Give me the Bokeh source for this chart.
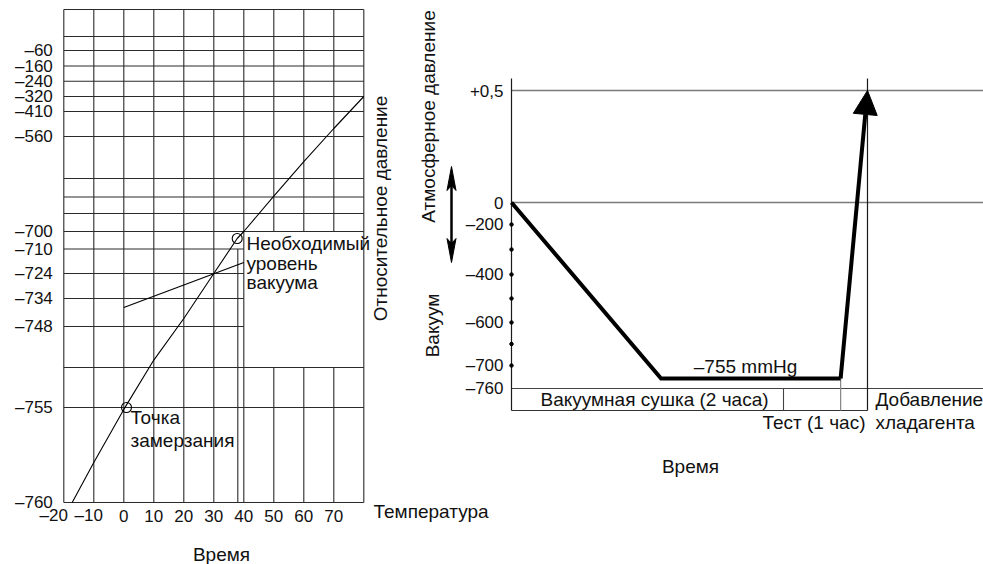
import numpy as np
from bokeh.plotting import figure
from bokeh.models import Range1d, Arrow, NormalHead
from bokeh.core.properties import value
from bokeh.embed import file_html
from bokeh.resources import INLINE

# ---------------- data: left chart (water vapour curve) ----------------
TEMP_TICKS = [-20, -10, 0, 10, 20, 30, 40, 50, 60, 70]
TEMP_LABELS = ["–20", "–10", "0", "10", "20", "30", "40", "50", "60", "70"]
TEMP_GRID = [-20, -10, 0, 10, 20, 30, 40, 50, 60, 70, 80]
P_TICKS = [-60, -160, -240, -320, -410, -560, -700, -710, -724, -734, -748, -755, -760]
P_LABELS = ["–60", "–160", "–240", "–320", "–410", "–560", "–700", "–710",
            "–724", "–734", "–748", "–755", "–760"]
CURVE_TEMP = [-17.2, -10, 0, 10, 20, 30, 37.8, 40, 50, 60, 70, 80]
CURVE_P = [-760, -757.9, -755.1, -750.9, -744, -724, -704, -700, -648, -597, -512, -320]
FREEZE_T, FREEZE_P = [0.9], [-755]
REQ_T, REQ_P = [37.8], [-704]
LEADER_T = [0, 40]
LEADER_P = [-738.5, -717.7]
REQ_LINE_T = 38
REQ_LINE_P = [-710, -760]

# ---------------- data: right chart (evacuation procedure) --------------
TIME_H = [0, 2, 3]                 # vacuum drying 2 h, test 1 h
PR_TICKS = [0.5, 0, -200, -400, -600, -700, -760]
PR_LABELS = ["+0,5", "0", "–200", "–400", "–600", "–700", "–760"]
PR_DOTS = [-200, -300, -400, -500, -600, -650, -700]
PR_LINES = [0.5, 0, -760]
PROFILE_T = [0, 1.1, 2.68]
PROFILE_P = [0, -755, -755]
CHARGE_T, CHARGE_P = 3.0, 0.5

# ---------------- layout (schematic, non-linear scales) -----------------
W, H = 983, 564
OFFX, OFFY = 0, 0
FONT = value("Liberation Sans")
FS_NUM = "17px"
FS_TXT = "19px"

# left chart: gridline heights (px above the -760 line)
P_TICK_H = [452, 436.5, 421.3, 406, 391, 366, 271, 253.5, 229, 204, 176, 95, 0]
P_EXTRA_H = [466, 324, 305.5, 289, 135]
L_TOP_H = 493
BOX_T = (40, 80)
BOX_H = (135, 271)
L_X0, L_PX0, L_PXPERU = -20, 63.3, 3.0
L_BOTTOM_PAGE = 502

# right chart
TIME_POS = [0, 272, 356]
RP_SCALE_V = [-760, -755, -700, -600, -400, -200, 0, 0.5]
RP_SCALE_H = [0, 10, 23, 66, 114, 164, 186, 298]
R_X0_PAGE, R_Y0_PAGE = 511, 388
R_TOP_H = 310
TABLE_DEPTH = 22


def lpos(v):
    return np.interp(v, P_TICKS[::-1], P_TICK_H[::-1])


def rt(t):
    return np.interp(t, TIME_H, TIME_POS)


def rp(v):
    return np.interp(v, RP_SCALE_V, RP_SCALE_H)


p = figure(width=W, height=H, output_backend="svg", toolbar_location=None,
           x_range=Range1d(OFFX, OFFX + W), y_range=Range1d(-(OFFY + H), -OFFY),
           x_axis_type=None, y_axis_type=None, min_border=0)
p.outline_line_color = None
p.background_fill_color = "white"
p.border_fill_color = "white"

p.extra_x_ranges = {
    "lx": Range1d(L_X0 + (OFFX - L_PX0) / L_PXPERU, L_X0 + (OFFX + W - L_PX0) / L_PXPERU),
    "rx": Range1d(OFFX - R_X0_PAGE, OFFX + W - R_X0_PAGE),
}
p.extra_y_ranges = {
    "ly": Range1d(L_BOTTOM_PAGE - (OFFY + H), L_BOTTOM_PAGE - OFFY),
    "ry": Range1d(R_Y0_PAGE - (OFFY + H), R_Y0_PAGE - OFFY),
}
L = dict(x_range_name="lx", y_range_name="ly")
R = dict(x_range_name="rx", y_range_name="ry")

# ---------- left chart grid ----------
x0s, y0s, x1s, y1s = [], [], [], []
for t in TEMP_GRID:
    spans = [(0, BOX_H[0]), (BOX_H[1], L_TOP_H)] if BOX_T[0] < t < BOX_T[1] else [(0, L_TOP_H)]
    for a, b in spans:
        x0s.append(t); x1s.append(t); y0s.append(a); y1s.append(b)
for hh in list(lpos(P_TICKS)) + P_EXTRA_H + [L_TOP_H]:
    t_end = BOX_T[0] if BOX_H[0] < hh < BOX_H[1] else TEMP_GRID[-1]
    x0s.append(TEMP_GRID[0]); x1s.append(t_end); y0s.append(hh); y1s.append(hh)
p.segment(x0s, y0s, x1s, y1s, line_color="#2a2a2a", line_width=1.1, **L)
p.segment([REQ_LINE_T], [lpos(REQ_LINE_P[0])], [REQ_LINE_T], [lpos(REQ_LINE_P[1])],
          line_color="#2a2a2a", line_width=1.1, **L)

# curve, leader, circles
p.line(CURVE_TEMP, lpos(CURVE_P), line_color="black", line_width=1.1, **L)
p.line(LEADER_T, lpos(LEADER_P), line_color="black", line_width=1.1, **L)
p.scatter(FREEZE_T + REQ_T, list(lpos(FREEZE_P + REQ_P)), marker="circle", size=10,
          fill_alpha=0, line_color="black", line_width=1.1, **L)

# left tick labels
p.text([TEMP_GRID[0]] * len(P_TICKS), list(lpos(P_TICKS)), text=P_LABELS,
       text_align="right", text_baseline="middle", x_offset=-11,
       text_font=FONT, text_font_size=FS_NUM, text_color="#111111", **L)
shift = [-10 if t == -20 else (-5 if t < 0 else 0) for t in TEMP_TICKS]
p.text(TEMP_TICKS, [-13] * len(TEMP_TICKS), text=TEMP_LABELS, x_offset=shift,
       text_align="center", text_baseline="middle",
       text_font=FONT, text_font_size=FS_NUM, text_color="#111111", **L)

# ---------- right chart ----------
xr_end = OFFX + W - R_X0_PAGE
p.segment([0] * len(PR_LINES), list(rp(PR_LINES)), [xr_end] * len(PR_LINES), list(rp(PR_LINES)),
          line_color=["#7a7a7a", "#7a7a7a", "#444444"], line_width=[1.6, 1.6, 1.1], **R)
p.segment([0, rt(CHARGE_T)], [-TABLE_DEPTH] * 2, [0, rt(CHARGE_T)], [R_TOP_H] * 2,
          line_color="#1a1a1a", line_width=1.2, **R)
p.segment([0], [-TABLE_DEPTH], [rt(CHARGE_T)], [-TABLE_DEPTH],
          line_color="#333333", line_width=1.2, **R)
p.segment([rt(TIME_H[1])], [0], [rt(TIME_H[1])], [-TABLE_DEPTH],
          line_color="#444444", line_width=1.1, **R)
p.segment([rt(PROFILE_T[-1])], [rp(PROFILE_P[-1])], [rt(PROFILE_T[-1])], [-TABLE_DEPTH],
          line_color="#8a8a8a", line_width=1.3, **R)

p.line(list(rt(PROFILE_T)), list(rp(PROFILE_P)), line_color="black", line_width=4,
       line_join="miter", **R)
p.add_layout(Arrow(end=NormalHead(size=24, fill_color="black", line_color="black"),
                   x_start=float(rt(PROFILE_T[-1])), y_start=float(rp(PROFILE_P[-1])),
                   x_end=float(rt(CHARGE_T)), y_end=float(rp(CHARGE_P)),
                   line_width=4, line_color="black", **R))

p.scatter([0] * len(PR_DOTS), list(rp(PR_DOTS)), size=3.5, color="black", **R)
p.text([0] * len(PR_TICKS), list(rp(PR_TICKS)), text=PR_LABELS, x_offset=-8,
       text_align="right", text_baseline="middle",
       text_font=FONT, text_font_size=FS_NUM, text_color="#111111", **R)

# double arrow between atmospheric pressure and vacuum (page coordinates)
DA_X, DA_TOP, DA_BOT = 451, 166, 262
p.line([DA_X, DA_X], [-(DA_TOP + 18), -(DA_BOT - 18)], line_color="black", line_width=2.5)
p.patches([[DA_X, DA_X + 4.5, DA_X, DA_X - 4.5], [DA_X, DA_X + 4.5, DA_X, DA_X - 4.5]],
          [[-DA_TOP, -(DA_TOP + 24), -(DA_TOP + 19), -(DA_TOP + 24)],
           [-DA_BOT, -(DA_BOT - 24), -(DA_BOT - 19), -(DA_BOT - 24)]],
          fill_color="black", line_color="black", line_width=1)

# ---------- free texts (page coordinates) ----------
NOTES_LEFT = [("Необходимый", 246, 243), ("уровень", 246, 263), ("вакуума", 246, 282),
              ("Точка", 130, 417), ("замерзания", 130, 440), ("Температура", 373, 511),
              ("Добавление", 875, 399), ("хладагента", 875, 422)]
NOTES_CENTER = [("Время", 221, 554), ("–755 mmHg", 745, 366),
                ("Вакуумная сушка (2 часа)", 654, 399), ("Время", 690, 466)]
NOTES_RIGHT = [("Тест (1 час)", 865, 422)]
NOTES_VERT = [("Относительное давление", 380, 208), ("Атмосферное давление", 428, 116),
              ("Вакуум", 432, 325)]

for notes, align, ang in [(NOTES_LEFT, "left", 0), (NOTES_CENTER, "center", 0),
                          (NOTES_RIGHT, "right", 0), (NOTES_VERT, "center", np.pi / 2)]:
    p.text([n[1] for n in notes], [-n[2] for n in notes], text=[n[0] for n in notes],
           angle=ang, text_align=align, text_baseline="middle",
           text_font=FONT, text_font_size=FS_TXT, text_color="#111111")

open("out.html", "w").write(file_html(p, INLINE))
